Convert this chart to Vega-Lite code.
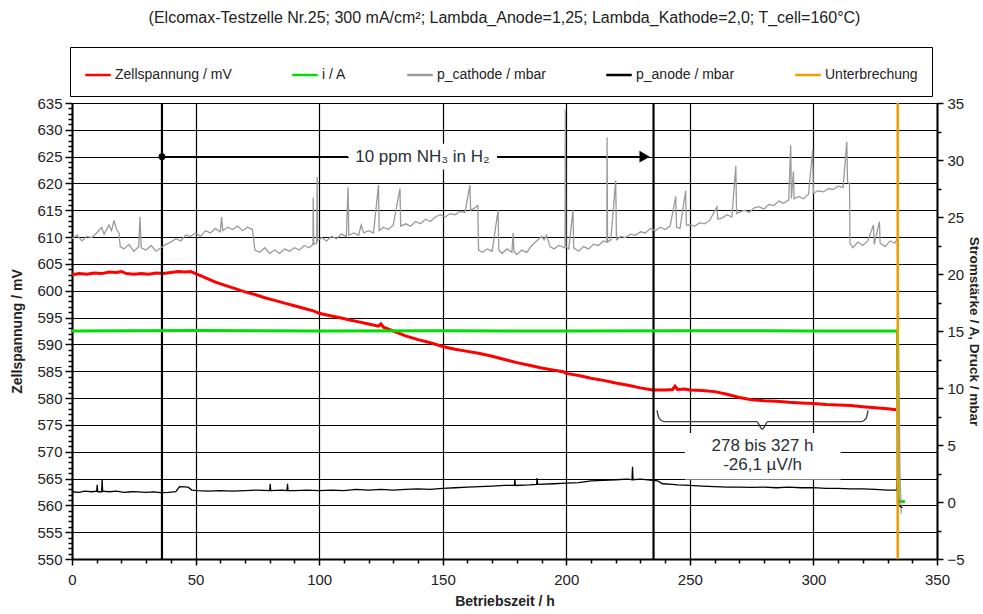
{
  "$schema": "https://vega.github.io/schema/vega-lite/v6.json",
  "width": 865,
  "height": 456,
  "autosize": "none",
  "padding": {"left": 72, "top": 103, "right": 46, "bottom": 55},
  "background": "white",
  "title": {"text": "(Elcomax-Testzelle Nr.25; 300 mA/cm²; Lambda_Anode=1,25; Lambda_Kathode=2,0; T_cell=160°C)", "fontSize": 16, "fontWeight": "normal", "font": "Liberation Sans", "color": "#222", "anchor": "middle", "offset": 21},
  "config": {
    "view": {"stroke": null},
    "font": "Liberation Sans",
    "axis": {"labelOverlap": false, "labelBound": false, "labelFlush": false},
    "legend": {"orient": "none", "legendX": -2, "legendY": -56, "direction": "horizontal", "columns": 5, "symbolType": "stroke", "symbolSize": 650, "symbolStrokeWidth": 2.5, "labelFontSize": 14, "labelFont": "Liberation Sans", "labelColor": "#222", "columnPadding": 55, "padding": 14, "strokeColor": "#000", "strokeWidth": 1, "labelOffset": 3, "labelLimit": 300}
  },
  "datasets": {
    "red": [
      {"h":0,"v":603.0},{"h":3,"v":603.2},{"h":6,"v":603.1},{"h":9,"v":603.3},{"h":12,"v":603.2},{"h":15,"v":603.5},{"h":18,"v":603.4},{"h":20,"v":603.6},{"h":22,"v":603.2},{"h":25,"v":603.1},{"h":28,"v":603.2},{"h":31,"v":603.1},{"h":34,"v":603.3},{"h":37,"v":603.2},{"h":40,"v":603.4},{"h":43,"v":603.6},{"h":46,"v":603.5},{"h":48,"v":603.6},{"h":50,"v":603.2},{"h":52,"v":602.8},{"h":55,"v":602.2},{"h":58,"v":601.6},{"h":62,"v":601.0},{"h":66,"v":600.4},{"h":70,"v":599.8},{"h":74,"v":599.3},{"h":78,"v":598.7},{"h":82,"v":598.2},{"h":86,"v":597.7},{"h":90,"v":597.2},{"h":94,"v":596.7},{"h":98,"v":596.2},{"h":100,"v":595.8},{"h":104,"v":595.4},{"h":108,"v":595.0},{"h":112,"v":594.6},{"h":116,"v":594.2},{"h":120,"v":593.8},{"h":124,"v":593.4},{"h":125,"v":593.8},{"h":126,"v":593.2},{"h":130,"v":592.5},{"h":135,"v":591.6},{"h":140,"v":590.9},{"h":145,"v":590.3},{"h":150,"v":589.6},{"h":155,"v":589.1},{"h":160,"v":588.7},{"h":165,"v":588.3},{"h":170,"v":587.8},{"h":175,"v":587.2},{"h":180,"v":586.6},{"h":185,"v":586.1},{"h":190,"v":585.6},{"h":195,"v":585.2},{"h":198.8,"v":584.9},{"h":200,"v":584.6},{"h":205,"v":584.2},{"h":210,"v":583.7},{"h":215,"v":583.3},{"h":220,"v":582.8},{"h":225,"v":582.4},{"h":230,"v":581.9},{"h":235,"v":581.5},{"h":240,"v":581.5},{"h":243,"v":581.6},{"h":244,"v":582.2},{"h":245,"v":581.6},{"h":248,"v":581.7},{"h":250,"v":581.5},{"h":255,"v":581.4},{"h":260,"v":581.2},{"h":265,"v":580.7},{"h":270,"v":580.1},{"h":275,"v":579.7},{"h":280,"v":579.5},{"h":285,"v":579.4},{"h":290,"v":579.2},{"h":295,"v":579.1},{"h":300,"v":579.0},{"h":305,"v":578.8},{"h":310,"v":578.7},{"h":315,"v":578.6},{"h":320,"v":578.4},{"h":325,"v":578.2},{"h":330,"v":578.0},{"h":333.5,"v":577.8}
    ],
    "green": [
      {"h":0,"v":15.0},{"h":50,"v":15.05},{"h":100,"v":15.0},{"h":150,"v":15.02},{"h":200,"v":15.0},{"h":250,"v":15.03},{"h":300,"v":15.0},{"h":334,"v":15.0},{"h":334.3,"v":0.05},{"h":337,"v":0.05}
    ],
    "gray": [
      {"h":0,"v":23.1},{"h":2,"v":23.4},{"h":4,"v":22.9},{"h":6,"v":23.3},{"h":8,"v":23.2},{"h":10,"v":23.6},{"h":12,"v":24.1},{"h":13,"v":23.5},{"h":15,"v":24.3},{"h":16,"v":23.8},{"h":17,"v":24.7},{"h":18,"v":23.9},{"h":19,"v":23.6},{"h":19.5,"v":22.4},{"h":21,"v":22.2},{"h":23,"v":22.6},{"h":25,"v":22.0},{"h":27,"v":22.4},{"h":27.5,"v":25.0},{"h":28,"v":22.3},{"h":30,"v":22.1},{"h":32,"v":22.5},{"h":34,"v":22.0},{"h":36,"v":22.3},{"h":38,"v":22.6},{"h":40,"v":22.8},{"h":42,"v":23.1},{"h":44,"v":22.9},{"h":46,"v":23.4},{"h":48,"v":23.3},{"h":50,"v":23.6},{"h":52,"v":23.3},{"h":54,"v":23.8},{"h":56,"v":23.6},{"h":58,"v":24.0},{"h":60,"v":23.7},{"h":60.5,"v":25.0},{"h":61,"v":23.8},{"h":63,"v":24.1},{"h":65,"v":23.9},{"h":67,"v":24.2},{"h":69,"v":23.8},{"h":71,"v":24.1},{"h":73,"v":23.9},{"h":74,"v":22.1},{"h":76,"v":21.9},{"h":78,"v":22.3},{"h":80,"v":21.8},{"h":82,"v":22.1},{"h":84,"v":21.8},{"h":86,"v":22.2},{"h":88,"v":22.0},{"h":90,"v":22.3},{"h":92,"v":22.1},{"h":94,"v":22.5},{"h":96,"v":22.3},{"h":97.5,"v":22.6},{"h":97.6,"v":26.7},{"h":97.8,"v":22.6},{"h":99,"v":22.7},{"h":99.2,"v":28.5},{"h":99.4,"v":22.9},{"h":101,"v":23.2},{"h":103,"v":22.9},{"h":105,"v":23.3},{"h":107,"v":23.1},{"h":109,"v":23.5},{"h":111,"v":23.3},{"h":111.7,"v":27.6},{"h":112,"v":23.4},{"h":114,"v":23.6},{"h":116,"v":23.4},{"h":117,"v":24.3},{"h":118,"v":23.6},{"h":120,"v":23.8},{"h":122,"v":23.6},{"h":124,"v":27.8},{"h":124.3,"v":23.8},{"h":126,"v":24.1},{"h":128,"v":23.9},{"h":130,"v":24.3},{"h":132.7,"v":27.5},{"h":133,"v":24.2},{"h":135,"v":24.4},{"h":137,"v":24.2},{"h":139,"v":24.6},{"h":141,"v":24.4},{"h":143,"v":24.8},{"h":145,"v":24.6},{"h":147,"v":25.0},{"h":149,"v":25.2},{"h":151,"v":25.0},{"h":153,"v":25.3},{"h":155,"v":25.2},{"h":157,"v":25.5},{"h":159,"v":25.4},{"h":161,"v":27.8},{"h":161.3,"v":25.6},{"h":163,"v":25.8},{"h":164.2,"v":26.0},{"h":164.5,"v":22.1},{"h":166,"v":21.9},{"h":168,"v":22.2},{"h":170,"v":22.0},{"h":172.4,"v":25.6},{"h":172.7,"v":22.1},{"h":174,"v":21.8},{"h":176,"v":22.2},{"h":178,"v":21.9},{"h":178.5,"v":23.6},{"h":178.8,"v":22.0},{"h":180,"v":21.7},{"h":182,"v":22.1},{"h":184,"v":21.9},{"h":186,"v":22.5},{"h":188,"v":22.9},{"h":190,"v":23.3},{"h":191,"v":23.0},{"h":192,"v":23.4},{"h":193.4,"v":22.4},{"h":195,"v":22.2},{"h":197,"v":22.5},{"h":199.5,"v":22.3},{"h":199.6,"v":34.4},{"h":199.8,"v":22.4},{"h":201,"v":22.2},{"h":202.7,"v":25.6},{"h":203,"v":22.3},{"h":205,"v":22.0},{"h":207,"v":22.4},{"h":209,"v":22.2},{"h":211,"v":22.6},{"h":213,"v":22.5},{"h":215,"v":22.9},{"h":216.4,"v":22.8},{"h":216.5,"v":32.0},{"h":216.7,"v":22.8},{"h":218,"v":23.0},{"h":220,"v":28.2},{"h":220.3,"v":23.0},{"h":222,"v":23.3},{"h":224,"v":23.2},{"h":226,"v":23.5},{"h":228,"v":23.4},{"h":230,"v":23.7},{"h":232,"v":23.6},{"h":234,"v":24.0},{"h":236,"v":23.8},{"h":238,"v":24.1},{"h":240,"v":23.9},{"h":242,"v":24.2},{"h":244.3,"v":26.8},{"h":244.6,"v":24.1},{"h":246,"v":24.0},{"h":248.3,"v":27.3},{"h":248.6,"v":24.3},{"h":250,"v":24.3},{"h":252,"v":24.2},{"h":254,"v":24.5},{"h":256,"v":24.4},{"h":258,"v":24.7},{"h":261,"v":25.9},{"h":261.3,"v":24.8},{"h":263,"v":24.9},{"h":265,"v":25.2},{"h":267,"v":25.0},{"h":268.6,"v":29.5},{"h":268.9,"v":25.3},{"h":270,"v":25.4},{"h":272,"v":25.6},{"h":274,"v":25.4},{"h":276,"v":25.8},{"h":278,"v":25.9},{"h":280,"v":25.7},{"h":282,"v":26.1},{"h":284,"v":26.0},{"h":286,"v":26.4},{"h":288,"v":26.2},{"h":290,"v":26.5},{"h":290.8,"v":31.3},{"h":291.1,"v":26.6},{"h":291.9,"v":29.0},{"h":292.2,"v":26.6},{"h":294,"v":26.8},{"h":296,"v":26.6},{"h":298,"v":27.0},{"h":299.7,"v":30.9},{"h":300,"v":27.1},{"h":302,"v":27.3},{"h":304,"v":27.2},{"h":306,"v":27.5},{"h":308,"v":27.4},{"h":310,"v":27.7},{"h":312,"v":27.6},{"h":313.5,"v":31.6},{"h":313.8,"v":28.1},{"h":314.6,"v":27.9},{"h":314.8,"v":22.7},{"h":316,"v":22.3},{"h":318,"v":22.8},{"h":320,"v":22.5},{"h":322,"v":22.9},{"h":324.3,"v":24.3},{"h":324.6,"v":22.6},{"h":326.7,"v":24.6},{"h":327,"v":22.7},{"h":329,"v":22.4},{"h":331,"v":22.9},{"h":333,"v":22.7},{"h":334,"v":23.2},{"h":335,"v":2.6},{"h":335.5,"v":-1.0}
    ],
    "black": [
      {"h":0,"v":0.9},{"h":3,"v":0.85},{"h":5,"v":0.95},{"h":8,"v":0.9},{"h":10,"v":0.95},{"h":10.2,"v":1.5},{"h":10.4,"v":0.9},{"h":12,"v":0.9},{"h":12.2,"v":2.0},{"h":12.4,"v":0.95},{"h":15,"v":0.9},{"h":18,"v":0.95},{"h":21,"v":0.85},{"h":24,"v":0.9},{"h":27,"v":0.88},{"h":30,"v":0.85},{"h":33,"v":0.88},{"h":36,"v":0.82},{"h":39,"v":0.85},{"h":42,"v":0.9},{"h":43.5,"v":1.35},{"h":47,"v":1.3},{"h":48.5,"v":1.05},{"h":51,"v":1.0},{"h":55,"v":0.95},{"h":60,"v":1.0},{"h":65,"v":0.95},{"h":70,"v":1.0},{"h":75,"v":1.05},{"h":80,"v":1.0},{"h":80.2,"v":1.6},{"h":80.4,"v":1.0},{"h":85,"v":1.05},{"h":87,"v":1.0},{"h":87.2,"v":1.6},{"h":87.4,"v":1.0},{"h":90,"v":1.0},{"h":95,"v":1.05},{"h":100,"v":1.0},{"h":105,"v":1.05},{"h":110,"v":1.0},{"h":115,"v":1.1},{"h":120,"v":1.05},{"h":125,"v":1.1},{"h":130,"v":1.05},{"h":135,"v":1.1},{"h":140,"v":1.15},{"h":145,"v":1.1},{"h":150,"v":1.2},{"h":155,"v":1.25},{"h":160,"v":1.3},{"h":165,"v":1.35},{"h":170,"v":1.4},{"h":175,"v":1.45},{"h":179,"v":1.45},{"h":179.2,"v":2.0},{"h":179.4,"v":1.45},{"h":185,"v":1.5},{"h":188,"v":1.55},{"h":188.2,"v":2.1},{"h":188.4,"v":1.55},{"h":195,"v":1.6},{"h":200,"v":1.65},{"h":205,"v":1.7},{"h":210,"v":1.85},{"h":215,"v":1.9},{"h":220,"v":1.95},{"h":225,"v":2.0},{"h":226.6,"v":1.95},{"h":226.8,"v":3.1},{"h":227,"v":1.95},{"h":230,"v":2.0},{"h":235,"v":1.9},{"h":237,"v":1.85},{"h":239,"v":1.6},{"h":243,"v":1.55},{"h":245,"v":1.5},{"h":250,"v":1.45},{"h":255,"v":1.4},{"h":260,"v":1.35},{"h":265,"v":1.3},{"h":270,"v":1.3},{"h":275,"v":1.28},{"h":280,"v":1.3},{"h":285,"v":1.25},{"h":290,"v":1.3},{"h":295,"v":1.25},{"h":300,"v":1.26},{"h":305,"v":1.2},{"h":310,"v":1.2},{"h":315,"v":1.15},{"h":320,"v":1.15},{"h":325,"v":1.1},{"h":330,"v":1.05},{"h":333.8,"v":1.05},{"h":334,"v":2.2},{"h":334.5,"v":-0.3},{"h":336,"v":-0.5}
    ],
    "boxes": [
      {"h":112,"h2":172,"v":622.6,"v2":627.4},
      {"h":248,"h2":311,"v":564.8,"v2":573.5}
    ],
    "events": [{"h":36.4},{"h":235.3}],
    "arrow": [
      {"seg":"a","h":36.4,"v":625},{"seg":"a","h":111.7,"v":625},
      {"seg":"b","h":172,"v":625},{"seg":"b","h":230,"v":625}
    ],
    "brace": [
      {"h":236.7,"v":577.7},{"h":237.6,"v":576.2},{"h":239.5,"v":575.6},{"h":277,"v":575.6},{"h":279.3,"v":574.2},{"h":281.6,"v":575.6},{"h":319.5,"v":575.6},{"h":321.3,"v":576.2},{"h":322.1,"v":577.7}
    ],
    "labels": [
      {"h":141.8,"v":625,"t":"10 ppm NH₃ in H₂"},
      {"h":279.4,"v":571.0,"t":"278 bis 327 h"},
      {"h":279.4,"v":567.5,"t":"-26,1 µV/h"}
    ],
    "breaks": [{"h":334.1}]
  },
  "resolve": {"scale": {"y": "independent"}},
  "layer": [
    {
      "layer": [
        {
          "data": {"name": "boxes"},
          "mark": {"type": "rect", "fill": "white", "stroke": null},
          "encoding": {
            "x": {"field": "h", "type": "quantitative", "scale": {"domain": [0, 350], "nice": false, "zero": false}},
            "x2": {"field": "h2"},
            "y": {"field": "v", "type": "quantitative", "scale": {"domain": [550, 635], "nice": false, "zero": false}},
            "y2": {"field": "v2"}
          }
        },
        {
          "data": {"name": "red"},
          "mark": {"type": "line", "strokeWidth": 3, "interpolate": "linear"},
          "encoding": {
            "x": {"field": "h", "type": "quantitative", "scale": {"domain": [0, 350], "nice": false, "zero": false},
              "axis": {"title": "Betriebszeit / h", "titleFontSize": 14, "titleFontWeight": "bold", "titleColor": "#222", "titleFont": "Liberation Sans", "titlePadding": 7,
                "values": [0,10,20,30,40,50,60,70,80,90,100,110,120,130,140,150,160,170,180,190,200,210,220,230,240,250,260,270,280,290,300,310,320,330,340,350],
                "tickCount": 1000, "format": "d",
                "labelExpr": "datum.value % 50 == 0 ? datum.label : ''", "labelFontSize": 15, "labelColor": "#222", "labelFont": "Liberation Sans", "labelPadding": 7, "labelOverlap": false,
                "domainColor": "#000", "domainWidth": 2, "tickColor": "#000", "tickWidth": 1.5,
                "tickSize": {"condition": {"test": "datum.value % 50 == 0", "value": 6}, "value": 4},
                "grid": true, "gridColor": "#000", "gridWidth": 1.2,
                "gridOpacity": {"condition": {"test": "datum.value % 50 == 0", "value": 1}, "value": 0}}},
            "y": {"field": "v", "type": "quantitative", "scale": {"domain": [550, 635], "nice": false, "zero": false},
              "axis": {"title": "Zellspannung / mV", "titleFontSize": 14, "titleFontWeight": "bold", "titleColor": "#222", "titleFont": "Liberation Sans", "titlePadding": 12,
                "values": [550,551,552,553,554,555,556,557,558,559,560,561,562,563,564,565,566,567,568,569,570,571,572,573,574,575,576,577,578,579,580,581,582,583,584,585,586,587,588,589,590,591,592,593,594,595,596,597,598,599,600,601,602,603,604,605,606,607,608,609,610,611,612,613,614,615,616,617,618,619,620,621,622,623,624,625,626,627,628,629,630,631,632,633,634,635],
                "tickCount": 1000, "format": "d",
                "labelExpr": "datum.value % 5 == 0 ? datum.label : ''", "labelFontSize": 15, "labelColor": "#222", "labelFont": "Liberation Sans", "labelPadding": 3, "labelOverlap": false,
                "domainColor": "#000", "domainWidth": 2, "tickColor": "#000", "tickWidth": 1.5,
                "tickSize": {"condition": {"test": "datum.value % 5 == 0", "value": 7}, "value": 4},
                "grid": true, "gridColor": "#000", "gridWidth": 1.2,
                "gridOpacity": {"condition": {"test": "datum.value % 5 == 0", "value": 1}, "value": 0}}},
            "color": {"datum": "Zellspannung / mV", "type": "nominal", "title": null,
              "scale": {"domain": ["Zellspannung / mV", "i / A", "p_cathode / mbar", "p_anode / mbar", "Unterbrechung"], "range": ["#ff0000", "#00e000", "#9a9a9a", "#000000", "#f59a00"]}}
          }
        },
        {
          "data": {"name": "events"},
          "mark": {"type": "rule", "color": "#000", "strokeWidth": 2.2},
          "encoding": {
            "x": {"field": "h", "type": "quantitative", "scale": {"domain": [0, 350], "nice": false, "zero": false}}
          }
        },
        {
          "data": {"name": "arrow"},
          "mark": {"type": "line", "color": "#000", "strokeWidth": 1.5},
          "encoding": {
            "x": {"field": "h", "type": "quantitative", "scale": {"domain": [0, 350], "nice": false, "zero": false}},
            "y": {"field": "v", "type": "quantitative", "scale": {"domain": [550, 635], "nice": false, "zero": false}},
            "detail": {"field": "seg", "type": "nominal"}
          }
        },
        {
          "data": {"values": [{"h": 36.4, "v": 625}]},
          "mark": {"type": "point", "filled": true, "color": "#000", "size": 45, "opacity": 1},
          "encoding": {
            "x": {"field": "h", "type": "quantitative", "scale": {"domain": [0, 350], "nice": false, "zero": false}},
            "y": {"field": "v", "type": "quantitative", "scale": {"domain": [550, 635], "nice": false, "zero": false}}
          }
        },
        {
          "data": {"values": [{"h": 231.7, "v": 625}]},
          "mark": {"type": "point", "shape": "triangle-right", "filled": true, "color": "#000", "size": 140, "opacity": 1},
          "encoding": {
            "x": {"field": "h", "type": "quantitative", "scale": {"domain": [0, 350], "nice": false, "zero": false}},
            "y": {"field": "v", "type": "quantitative", "scale": {"domain": [550, 635], "nice": false, "zero": false}}
          }
        },
        {
          "data": {"name": "brace"},
          "mark": {"type": "line", "color": "#404040", "strokeWidth": 1.4, "interpolate": "monotone"},
          "encoding": {
            "x": {"field": "h", "type": "quantitative", "scale": {"domain": [0, 350], "nice": false, "zero": false}},
            "y": {"field": "v", "type": "quantitative", "scale": {"domain": [550, 635], "nice": false, "zero": false}}
          }
        },
        {
          "data": {"name": "labels"},
          "mark": {"type": "text", "fontSize": 17, "font": "Liberation Sans", "color": "#2a2f38", "align": "center", "baseline": "middle"},
          "encoding": {
            "x": {"field": "h", "type": "quantitative", "scale": {"domain": [0, 350], "nice": false, "zero": false}},
            "y": {"field": "v", "type": "quantitative", "scale": {"domain": [550, 635], "nice": false, "zero": false}},
            "text": {"field": "t", "type": "nominal"}
          }
        }
      ]
    },
    {
      "layer": [
        {
          "data": {"name": "green"},
          "mark": {"type": "line", "strokeWidth": 3},
          "encoding": {
            "x": {"field": "h", "type": "quantitative", "scale": {"domain": [0, 350], "nice": false, "zero": false}},
            "y": {"field": "v", "type": "quantitative", "scale": {"domain": [-5, 35], "nice": false, "zero": false},
              "axis": {"orient": "right", "title": "Stromstärke / A, Druck / mbar", "titleFontSize": 13.5, "titleFontWeight": "bold", "titleColor": "#222", "titleFont": "Liberation Sans", "titlePadding": 2,
                "values": [-5,-2.5,0,2.5,5,7.5,10,12.5,15,17.5,20,22.5,25,27.5,30,32.5,35],
                "tickCount": 1000, "format": "d",
                "labelExpr": "datum.value % 5 == 0 ? datum.label : ''", "labelFontSize": 15, "labelColor": "#222", "labelFont": "Liberation Sans", "labelPadding": 4, "labelOverlap": false,
                "domainColor": "#000", "domainWidth": 2, "tickColor": "#000", "tickWidth": 1.5,
                "tickSize": {"condition": {"test": "datum.value % 5 == 0", "value": 6}, "value": 4},
                "grid": false}},
            "color": {"datum": "i / A", "type": "nominal", "title": null,
              "scale": {"domain": ["Zellspannung / mV", "i / A", "p_cathode / mbar", "p_anode / mbar", "Unterbrechung"], "range": ["#ff0000", "#00e000", "#9a9a9a", "#000000", "#f59a00"]}}
          }
        },
        {
          "data": {"name": "gray"},
          "mark": {"type": "line", "strokeWidth": 1.3},
          "encoding": {
            "x": {"field": "h", "type": "quantitative", "scale": {"domain": [0, 350], "nice": false, "zero": false}},
            "y": {"field": "v", "type": "quantitative", "scale": {"domain": [-5, 35], "nice": false, "zero": false}},
            "color": {"datum": "p_cathode / mbar", "type": "nominal", "title": null,
              "scale": {"domain": ["Zellspannung / mV", "i / A", "p_cathode / mbar", "p_anode / mbar", "Unterbrechung"], "range": ["#ff0000", "#00e000", "#9a9a9a", "#000000", "#f59a00"]}}
          }
        },
        {
          "data": {"name": "black"},
          "mark": {"type": "line", "strokeWidth": 1.3},
          "encoding": {
            "x": {"field": "h", "type": "quantitative", "scale": {"domain": [0, 350], "nice": false, "zero": false}},
            "y": {"field": "v", "type": "quantitative", "scale": {"domain": [-5, 35], "nice": false, "zero": false}},
            "color": {"datum": "p_anode / mbar", "type": "nominal", "title": null,
              "scale": {"domain": ["Zellspannung / mV", "i / A", "p_cathode / mbar", "p_anode / mbar", "Unterbrechung"], "range": ["#ff0000", "#00e000", "#9a9a9a", "#000000", "#f59a00"]}}
          }
        },
        {
          "data": {"name": "breaks"},
          "mark": {"type": "rule", "strokeWidth": 2.5},
          "encoding": {
            "x": {"field": "h", "type": "quantitative", "scale": {"domain": [0, 350], "nice": false, "zero": false}},
            "color": {"datum": "Unterbrechung", "type": "nominal", "title": null,
              "scale": {"domain": ["Zellspannung / mV", "i / A", "p_cathode / mbar", "p_anode / mbar", "Unterbrechung"], "range": ["#ff0000", "#00e000", "#9a9a9a", "#000000", "#f59a00"]}}
          }
        }
      ]
    }
  ]
}
